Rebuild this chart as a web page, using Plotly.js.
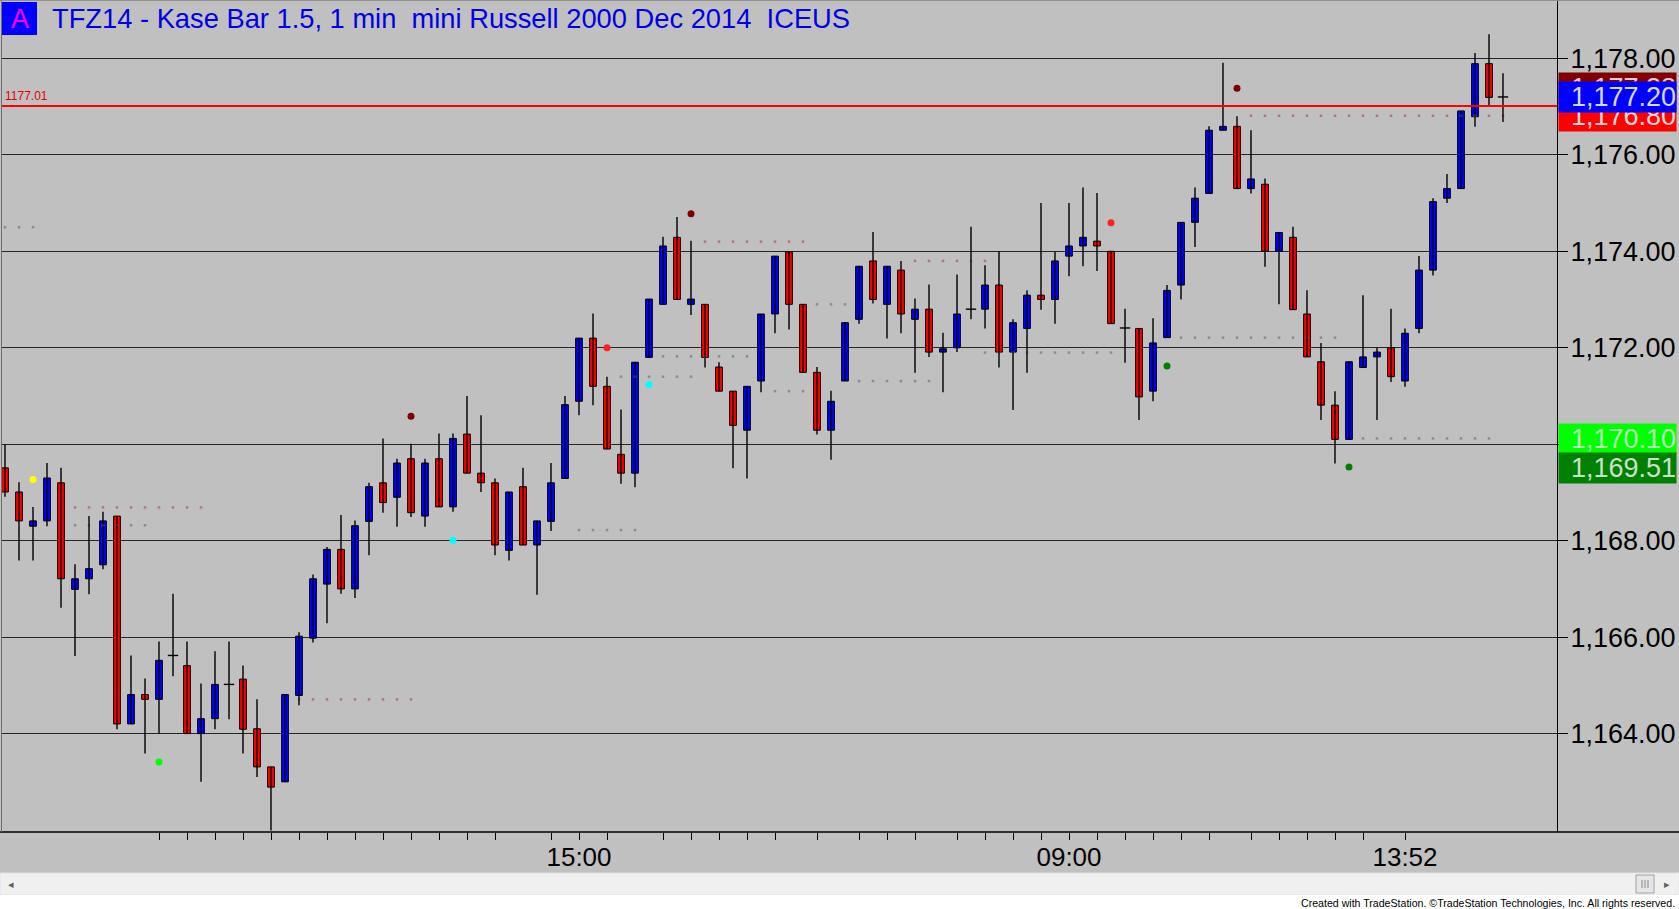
<!DOCTYPE html>
<html><head><meta charset="utf-8">
<script src="https://cdn.plot.ly/plotly-3.0.1.min.js"></script>
<style>html,body{margin:0;padding:0;background:#c0c0c0;overflow:hidden}#chart{width:1679px;height:909px}</style>
</head><body><div id="chart"></div>
<script>
// ---------------- data ----------------
const chartTitle = "TFZ14 - Kase Bar 1.5, 1 min\u00a0\u00a0mini Russell 2000 Dec 2014\u00a0\u00a0ICEUS";
const barOpen = [1169.51,1169.01,1168.30,1168.41,1169.20,1166.99,1167.21,1167.50,1168.51,1164.20,
1164.81,1164.71,1165.62,1165.41,1164.00,1164.31,1165.02,1165.13,1164.10,1163.31,
1163.00,1164.79,1165.98,1167.10,1167.82,1167.00,1168.40,1169.20,1168.90,1169.70,
1168.51,1169.70,1168.70,1170.21,1169.40,1169.20,1167.80,1169.12,1167.91,1168.40,
1169.29,1170.89,1172.20,1171.20,1169.79,1169.40,1171.80,1172.90,1174.29,1172.90,
1172.90,1171.60,1171.10,1170.29,1171.31,1172.70,1173.99,1172.90,1171.49,1170.29,
1171.31,1172.59,1173.80,1172.90,1173.61,1172.59,1172.80,1171.91,1172.00,1172.80,
1172.80,1173.30,1171.91,1172.40,1173.09,1173.00,1173.90,1174.11,1174.21,1174.00,
1172.41,1172.40,1171.10,1172.21,1173.30,1174.60,1175.20,1176.51,1176.59,1175.30,
1175.39,1174.00,1174.29,1172.70,1171.71,1170.81,1170.10,1171.59,1171.81,1172.00,
1171.31,1172.40,1173.61,1175.10,1175.30,1176.79,1177.89,1177.20];
const barHigh = [1170.00,1169.21,1168.70,1169.61,1169.51,1167.51,1168.51,1168.60,1168.51,1165.62,
1165.14,1165.91,1166.90,1165.91,1165.04,1165.71,1165.91,1165.41,1164.71,1163.31,
1164.81,1166.10,1167.30,1167.87,1168.53,1168.42,1169.20,1170.12,1169.70,1170.01,
1169.70,1170.22,1170.22,1171.00,1170.60,1169.29,1169.01,1169.51,1168.41,1169.61,
1171.00,1172.20,1172.71,1171.40,1170.72,1171.70,1173.01,1174.30,1174.71,1174.22,
1172.90,1171.70,1171.10,1171.20,1172.70,1173.90,1173.99,1172.90,1171.60,1171.11,
1172.52,1173.69,1174.40,1173.69,1173.80,1173.02,1173.31,1172.31,1173.52,1174.51,
1173.71,1174.00,1172.59,1173.19,1175.00,1173.99,1175.00,1175.32,1175.21,1174.00,
1172.81,1172.40,1172.61,1173.30,1174.60,1175.32,1176.59,1177.91,1176.80,1176.51,
1175.51,1174.39,1174.51,1173.19,1172.10,1171.10,1171.71,1173.09,1172.00,1172.81,
1172.40,1173.90,1175.10,1175.60,1176.91,1178.11,1178.50,1177.69];
const barLow = [1168.91,1167.59,1167.59,1168.30,1166.61,1165.61,1166.89,1167.41,1164.09,1164.20,
1163.59,1164.00,1165.19,1164.00,1163.00,1164.09,1164.30,1163.59,1163.10,1161.99,
1163.00,1164.59,1165.89,1166.29,1166.90,1166.81,1167.70,1168.58,1168.29,1168.49,
1168.29,1168.70,1168.60,1169.40,1169.01,1167.70,1167.59,1167.91,1166.88,1168.20,
1169.29,1170.60,1170.81,1169.90,1169.18,1169.11,1171.80,1172.90,1173.00,1172.68,
1171.59,1171.10,1169.50,1169.29,1171.08,1172.30,1172.38,1171.49,1170.20,1169.68,
1171.31,1172.50,1172.92,1172.19,1172.30,1171.48,1171.81,1171.08,1171.91,1172.59,
1172.40,1171.59,1170.71,1171.48,1172.79,1172.50,1173.48,1173.69,1173.59,1172.50,
1171.69,1170.50,1170.89,1172.21,1173.00,1174.09,1175.20,1176.51,1175.30,1175.20,
1173.68,1172.90,1172.79,1171.81,1170.50,1169.60,1170.10,1171.59,1170.50,1171.29,
1171.19,1172.30,1173.50,1175.00,1175.30,1176.58,1176.99,1176.68];
const barClose = [1169.01,1168.41,1168.41,1169.30,1167.21,1167.21,1167.42,1168.41,1164.20,1164.81,
1164.71,1165.52,1165.62,1164.00,1164.31,1165.02,1165.02,1164.09,1163.31,1162.89,
1164.81,1166.02,1167.21,1167.82,1167.00,1168.31,1169.12,1168.79,1169.61,1168.58,
1169.61,1168.70,1170.12,1169.40,1169.20,1167.91,1169.01,1167.91,1168.41,1169.20,
1170.82,1172.20,1171.20,1169.90,1169.40,1171.70,1173.01,1174.11,1173.00,1173.01,
1171.80,1171.10,1170.39,1171.20,1172.70,1173.90,1172.90,1171.49,1170.29,1170.89,
1172.52,1173.69,1173.00,1173.69,1172.70,1172.80,1171.91,1171.98,1172.70,1172.80,
1173.30,1171.91,1172.52,1173.09,1173.00,1173.80,1174.11,1174.29,1174.11,1172.50,
1172.41,1170.98,1172.10,1173.19,1174.60,1175.10,1176.51,1176.59,1175.30,1175.50,
1174.00,1174.39,1172.79,1171.81,1170.81,1170.10,1171.71,1171.81,1171.91,1171.40,
1172.30,1173.61,1175.03,1175.30,1176.91,1177.89,1177.19,1177.20];

// time-axis tick marks (bar index) and labelled ones
const timeTickBars = [11,13,15,17,19,21,23,25,27,29,31,33,35,39,41,43,47,49,51,53,55,58,61,63,65,68,70,72,74,76,78,80,82,84,86,89,91,93,95,97,100];
const timeLabelBars = [41,76,100];
const timeLabels = ['15:00','09:00','13:52'];
const priceTicks = [1164,1166,1168,1170,1172,1174,1176,1178];

// signal dots
const sigBar   = [2,11,29,32,43,46,49,79,83,88,96];
const sigPrice = [1169.27,1163.41,1170.58,1168.01,1172.00,1171.24,1174.78,1174.59,1171.62,1177.38,1169.53];
const sigType  = ['yellow','lime','maroon','cyan','red','cyan','maroon','red','green','maroon','green'];

// faint dotted indicator levels
const dotLevel = [1174.50,1168.69,1168.32,1164.71,1168.22,1174.20,1171.40,1171.82,1171.10,1172.90,1173.80,1171.31,1171.90,1176.81,1172.21,1170.12];
const dotFrom  = [0,5,5,21,41,50,44,47,55,58,65,61,70,89,84,97];
const dotTo    = [2,14,10,29,45,57,49,53,57,60,70,66,79,107,95,106];
const dotType  = ['g','r','g','r','g','r','g','g','g','g','r','g','g','r','g','g'];

// right-axis price tags (drawn in this order)
const tagPrice = [1177.38,1176.80,1177.20,1170.10,1169.51];
const tagType  = ['maroon','red','blue','lime','green'];
const refLevel = 1177.01;
const footerText = "Created with TradeStation. \u00a9TradeStation Technologies, Inc. All rights reserved.";

// ---------------- styles ----------------
const FONT = 'Liberation Sans, Arial, sans-serif';
const sigColors = {yellow:'#ffff00', lime:'#00ff00', maroon:'#800000', cyan:'#00ffff', red:'#ff2020', green:'#008000'};
const tagStyle = {
  maroon:{bg:'#800000', fg:'#e8c8c8'}, red:{bg:'#ff0000', fg:'#ffd8d8'}, blue:{bg:'#0000ff', fg:'#d8d8ff'},
  lime:{bg:'#00ff00', fg:'#b8f0b8'}, green:{bg:'#008000', fg:'#c8e0c8'}
};
const dotColors = {g:'#8c8c8c', r:'#b07878'};

// pixel geometry
const L = 2, R = 1557, T = 0, B = 832;
const px = x => (x - L) / (R - L);
const py = y => (B - y) / (B - T);

// ---------------- traces ----------------
const n = barOpen.length;
const idx = [...Array(n).keys()];
const traces = [];

// dotted levels
['g','r'].forEach(k => {
  const xs = [], ys = [];
  dotLevel.forEach((lv, j) => {
    if (dotType[j] !== k) return;
    for (let b = dotFrom[j]; b <= dotTo[j]; b++) { xs.push(b); ys.push(lv); }
  });
  traces.push({type:'scatter', mode:'markers', x:xs, y:ys, hoverinfo:'skip',
    marker:{size:2.5, color:dotColors[k], symbol:'square'}});
});

// wicks
const wx = [], wy = [];
idx.forEach(i => { wx.push(i, i, null); wy.push(barLow[i], barHigh[i], null); });
traces.push({type:'scatter', mode:'lines', x:wx, y:wy, hoverinfo:'skip',
  line:{color:'#000000', width:1.4}});

// dojis (open == close)
const dx = [], dy = [];
idx.forEach(i => { if (barOpen[i] === barClose[i]) { dx.push(i-0.37, i+0.37, null); dy.push(barOpen[i], barOpen[i], null); } });
traces.push({type:'scatter', mode:'lines', x:dx, y:dy, hoverinfo:'skip', line:{color:'#000000', width:1.4}});

// bodies
const bIdx = idx.filter(i => barOpen[i] !== barClose[i]);
traces.push({type:'bar', x:bIdx,
  base:bIdx.map(i => Math.min(barOpen[i], barClose[i])),
  y:bIdx.map(i => Math.abs(barClose[i] - barOpen[i])),
  width:0.48, hoverinfo:'skip',
  marker:{color:bIdx.map(i => barClose[i] > barOpen[i] ? '#0000ff' : '#ff0000'),
          line:{color:'#000000', width:1}}});

// signal dots
traces.push({type:'scatter', mode:'markers', x:sigBar, y:sigPrice, hoverinfo:'skip',
  marker:{size:7, color:sigType.map(t => sigColors[t]), line:{width:0}}});

// ---------------- shapes / annotations ----------------
const shapes = [
  // bottom status area
  {type:'rect', xref:'paper', yref:'paper', x0:px(0), x1:px(1679), y0:py(873), y1:py(895), fillcolor:'#f0f0f0', line:{color:'#e2e2e2', width:1}, layer:'above'},
  {type:'rect', xref:'paper', yref:'paper', x0:px(0), x1:px(1679), y0:py(895), y1:py(909), fillcolor:'#ffffff', line:{width:0}, layer:'above'},
  {type:'rect', xref:'paper', yref:'paper', x0:px(1636), x1:px(1654), y0:py(875), y1:py(893), fillcolor:'#e6e6e6', line:{color:'#a0a0a0', width:1}, layer:'above'},
  {type:'line', xref:'paper', yref:'paper', x0:px(1642), x1:px(1642), y0:py(880), y1:py(888), line:{color:'#8a8a8a', width:1}, layer:'above'},
  {type:'line', xref:'paper', yref:'paper', x0:px(1645), x1:px(1645), y0:py(880), y1:py(888), line:{color:'#8a8a8a', width:1}, layer:'above'},
  {type:'line', xref:'paper', yref:'paper', x0:px(1648), x1:px(1648), y0:py(880), y1:py(888), line:{color:'#8a8a8a', width:1}, layer:'above'},
  // full width time-axis line
  {type:'line', xref:'paper', yref:'paper', x0:px(0), x1:px(1679), y0:py(832), y1:py(832), line:{color:'#000000', width:1.5}, layer:'above'},
  // frame
  {type:'line', xref:'paper', yref:'paper', x0:px(1.5), x1:px(1.5), y0:py(0), y1:py(832), line:{color:'#707070', width:1}, layer:'above'},
  {type:'line', xref:'paper', yref:'paper', x0:px(0), x1:px(1679), y0:py(0.5), y1:py(0.5), line:{color:'#909090', width:1}, layer:'above'},
  // "A" box
  {type:'rect', xref:'paper', yref:'paper', x0:px(2), x1:px(37), y0:py(35), y1:py(2), fillcolor:'#0000ff', line:{width:0}, layer:'above'},
  // reference line
  {type:'line', xref:'paper', yref:'y', x0:0, x1:1, y0:refLevel, y1:refLevel, line:{color:'#ff0000', width:2}, layer:'above'}
];

const annotations = [
  {xref:'paper', yref:'paper', x:px(19.5), y:py(19), xanchor:'center', yanchor:'middle', text:'A', showarrow:false,
   font:{family:FONT, size:27, color:'#ff00ff'}},
  {xref:'paper', yref:'paper', x:px(50), y:py(19), xanchor:'left', yanchor:'middle', text:chartTitle, showarrow:false,
   font:{family:FONT, size:27.3, color:'#0000e6'}},
  {xref:'paper', yref:'y', x:px(3), y:refLevel, yshift:10, xanchor:'left', yanchor:'middle', text:refLevel.toFixed(2), showarrow:false,
   font:{family:FONT, size:12, color:'#e00000'}},
  {xref:'paper', yref:'paper', x:px(1677), y:py(903), xanchor:'right', yanchor:'middle', text:footerText, showarrow:false,
   font:{family:FONT, size:10.6, color:'#000000'}},
  {xref:'paper', yref:'paper', x:px(11), y:py(884), xanchor:'center', yanchor:'middle', text:'\u25C2', showarrow:false,
   font:{family:FONT, size:11, color:'#606060'}},
  {xref:'paper', yref:'paper', x:px(1667), y:py(884), xanchor:'center', yanchor:'middle', text:'\u25B8', showarrow:false,
   font:{family:FONT, size:11, color:'#606060'}}
];
tagPrice.forEach((p, j) => {
  const st = tagStyle[tagType[j]];
  annotations.push({xref:'paper', yref:'y', x:px(1557.5), y:p, xanchor:'left', yanchor:'middle',
    text:p.toLocaleString('en-US', {minimumFractionDigits:2, maximumFractionDigits:2}),
    showarrow:false, width:117, height:30, align:'right', borderpad:0, bgcolor:st.bg,
    font:{family:FONT, size:27, color:st.fg}});
});

const layout = {
  width:1679, height:909,
  margin:{l:L, r:1679-R, t:T, b:909-B, pad:0},
  paper_bgcolor:'#c0c0c0', plot_bgcolor:'#c0c0c0',
  showlegend:false, hovermode:false,
  xaxis:{range:[-0.214, 110.857], showgrid:false, zeroline:false, showline:false,
    tickmode:'array', tickvals:timeTickBars,
    ticktext:timeTickBars.map(b => { const k = timeLabelBars.indexOf(b); return k >= 0 ? timeLabels[k] : ''; }),
    ticks:'outside', ticklen:7, tickcolor:'#000000', tickwidth:1, ticklabelstandoff:-5,
    tickfont:{family:FONT, size:26, color:'#000000'}, fixedrange:true},
  yaxis:{side:'right', range:[1161.96, 1179.21], zeroline:false,
    showgrid:true, gridcolor:'#262626', gridwidth:1,
    showline:true, linecolor:'#000000', linewidth:1,
    tickmode:'array', tickvals:priceTicks, tickformat:',.2f',
    ticks:'outside', ticklen:10, tickcolor:'#000000', ticklabelstandoff:-3,
    tickfont:{family:FONT, size:27, color:'#000000'}, fixedrange:true},
  shapes:shapes, annotations:annotations
};

Plotly.newPlot('chart', traces, layout, {displayModeBar:false, staticPlot:true});
</script>
</body></html>
